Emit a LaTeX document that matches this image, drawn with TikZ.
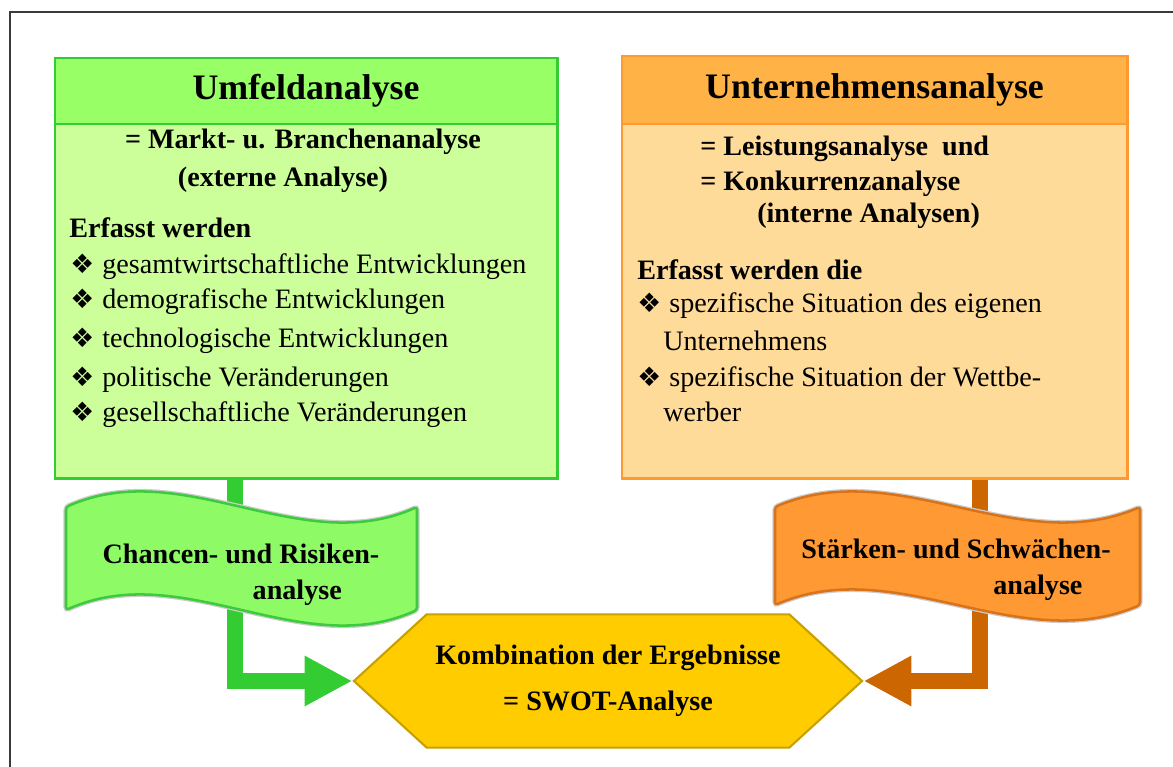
\documentclass[tikz,border=0pt]{standalone}
\usepackage{fontspec}
\setmainfont{Liberation Serif}
\newfontfamily\symfont{DejaVu Sans}
\usetikzlibrary{arrows.meta,positioning,shapes.symbols}

\newcommand{\bul}{\makebox[22.8pt][l]{\symfont\fontsize{19}{19}\selectfont ❖}}

\begin{document}
\begin{tikzpicture}
	[x=0.025cm,y=-0.025cm,line join=miter,
	%Styles
	titlebox/.style={draw=#1line,fill=#1title,line width=2pt,inner sep=0pt,outer sep=0pt,anchor=north west,font=\bfseries\fontsize{25.5}{30}\selectfont},
	bodybox/.style={draw=#1line,fill=#1body,line width=2pt,inner sep=0pt,outer sep=0pt,minimum height=8.85cm},
	head text/.style={font=\bfseries\fontsize{20}{24}\selectfont,inner sep=0pt},
	item text/.style={font=\fontsize{20}{24}\selectfont,inner sep=0pt,anchor=west},
	wave/.style={fill=#1wave,draw=#1waveline,line width=1.8pt,rounded corners=2pt,preaction={draw=black!20,line width=3.6pt}},
	wave text/.style={font=\bfseries\fontsize{20}{25.6}\selectfont,align=left,inner sep=0pt},
	flow/.style={draw=#1flow,line width=12pt,-{Triangle[length=34pt,width=33.5pt]}},
	swotbox/.style={signal,signal to=west and east,signal pointer angle=85,draw=hexline,fill=hexfill,line width=1.5pt,inner sep=0pt,minimum width=12.7cm,minimum height=3.33cm,font=\bfseries\fontsize{20}{32.7}\selectfont,align=center}
	]
	
	%Colors
	\definecolor{greentitle}{HTML}{99FF66}
	\definecolor{greenbody}{HTML}{CCFF99}
	\definecolor{greenline}{HTML}{33CC33}
	\definecolor{greenwave}{HTML}{8EFA66}
	\definecolor{greenwaveline}{HTML}{3CCB3C}
	\definecolor{greenflow}{HTML}{33CC33}
	\definecolor{orangetitle}{HTML}{FFB347}
	\definecolor{orangebody}{HTML}{FFDB99}
	\definecolor{orangeline}{HTML}{FF9A33}
	\definecolor{orangewave}{HTML}{FF9933}
	\definecolor{orangewaveline}{HTML}{D9731A}
	\definecolor{orangeflow}{HTML}{CC6600}
	\definecolor{hexfill}{HTML}{FFCC00}
	\definecolor{hexline}{HTML}{C9A000}
	\definecolor{framecolor}{HTML}{3A3A3A}
	
	%The graphic
	\useasboundingbox (0,0) rectangle (1173,767);
	\draw[framecolor,line width=2pt] (10,767) -- (10,12) -- (1173,12);
	
	\node[swotbox] (swot) at (608,681) {Kombination der Ergebnisse\\= SWOT-Analyse};
	
	\coordinate (gstem) at (235,470);
	\coordinate (ostem) at (980,470);
	\draw[flow=green] (gstem) |- (swot.west);
	\draw[flow=orange] (ostem) |- (swot.east);
	
	%left box
	\node[titlebox=green,minimum width=12.55cm,minimum height=1.65cm] (gtitle) at (55,58) {Umfeldanalyse};
	\node[bodybox=green,minimum width=12.55cm,below=0pt of gtitle] (gbody) {};
	\node[head text] (gsub1) at (303,142) {= Markt- u. Branchenanalyse};
	\node[head text] (gsub2) at (283,180) {(externe Analyse)};
	\node[head text,anchor=west] (gcaught) at (69,228) {Erfasst werden};
	\foreach \y/\txt [count=\i] in {267/gesamtwirtschaftliche Entwicklungen,302/demografische Entwicklungen,341/technologische Entwicklungen,380/politische Veränderungen,415/gesellschaftliche Veränderungen}
		\node[item text] (gitem\i) at (70,\y) {\bul\txt};
	
	%right box
	\node[titlebox=orange,minimum width=12.625cm,minimum height=1.7cm] (otitle) at (622,56) {Unternehmensanalyse};
	\node[bodybox=orange,minimum width=12.625cm,below=0pt of otitle] (obody) {};
	\node[head text,anchor=west] (osub1) at (700,149) {= Leistungsanalyse \ und};
	\node[head text,anchor=west] (osub2) at (700,184) {= Konkurrenzanalyse};
	\node[head text,anchor=west] (osub3) at (757,216) {(interne Analysen)};
	\node[head text,anchor=west] (ocaught) at (637,270) {Erfasst werden die};
	\node[item text] (oitem1) at (637,306) {\bul spezifische Situation des eigenen};
	\node[item text] (oitem1b) at (663,341) {Unternehmens};
	\node[item text] (oitem2) at (637,380) {\bul spezifische Situation der Wettbe-};
	\node[item text] (oitem2b) at (663,412) {werber};
	
	%banners
	\draw[wave=green] (66,507) .. controls (183,455) and (300,559) .. (417,507) -- (417,610) .. controls (300,662) and (183,558) .. (66,610) -- cycle;
	\node[wave text] (gwave) at (241,575) {Chancen- und Risiken-\\\hspace*{106.7pt}analyse};
	\draw[wave=orange] (775,507) .. controls (897,455) and (1018,559) .. (1140,507) -- (1140,605) .. controls (1018,657) and (897,553) .. (775,605) -- cycle;
	\node[wave text] (owave) at (956,570) {Stärken- und Schwächen-\\\hspace*{136.6pt}analyse};
\end{tikzpicture}
\end{document}
